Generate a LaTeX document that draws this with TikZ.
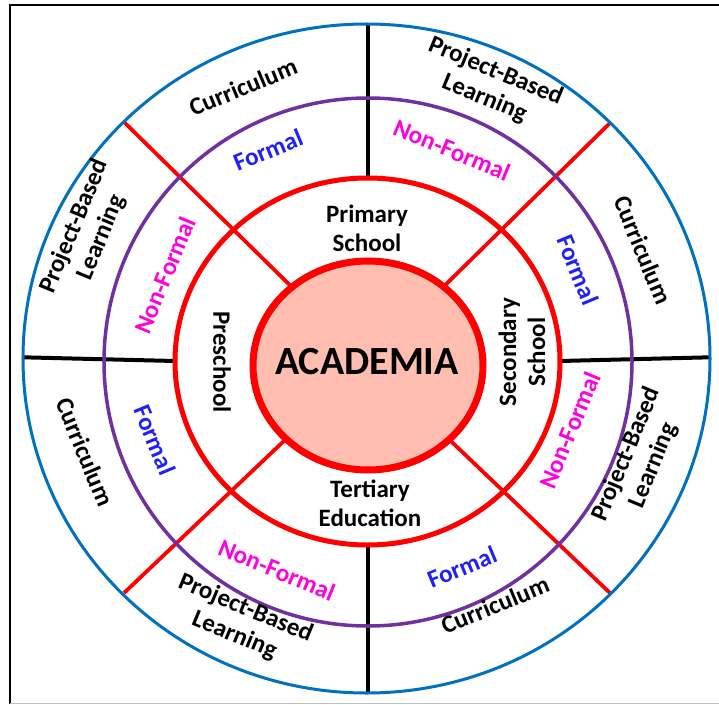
\documentclass[tikz,border=0pt]{standalone}
\usepackage{fontspec}
\setmainfont{Carlito}
\definecolor{ringblue}{RGB}{0,112,192}
\definecolor{ringpurple}{RGB}{112,48,160}
\definecolor{ringred}{RGB}{255,0,0}
\definecolor{corefill}{RGB}{255,190,175}
\definecolor{formalblue}{RGB}{30,30,255}
\definecolor{nonformalmag}{RGB}{255,0,220}
\begin{document}
\begin{tikzpicture}[x=1pt,y=1pt,
  lbl/.style={font=\fontsize{25}{29}\selectfont\bfseries, align=center, inner sep=0pt},
  outerlbl/.style={lbl, text=black},
  formallbl/.style={lbl, text=formalblue},
  nonformallbl/.style={lbl, text=nonformalmag},
  innerlbl/.style={lbl, text=black},
  blackdiv/.style={draw=black, line width=4pt},
  reddiv/.style={draw=ringred, line width=3.8pt}]
\useasboundingbox (-367.5,-344.5) rectangle (351.5,359.5);
% frame
\draw[black, line width=2pt] (-357.5,-344.5) -- (-357.5,354.5) -- (352,354.5);
\draw[gray!50, line width=1pt] (-357.5,-343.5) -- (352,-343.5);
% red diagonal dividers
\coordinate (ctr) at (0,-2);
\coordinate (d1) at (-243.5,237.5);
\coordinate (d2) at (242.5,236.5);
\coordinate (d3) at (-243.5,-233.5);
\coordinate (d4) at (242.5,-233.5);
\draw[reddiv] (d1) -- (ctr);
\draw[reddiv] (d2) -- (ctr);
\draw[reddiv] (d3) -- (ctr);
\draw[reddiv] (d4) -- (ctr);
% black dividers
\coordinate (t1) at (0.2,335.5); \coordinate (t2) at (0.2,181.5);
\coordinate (b1) at (0.2,-185.5); \coordinate (b2) at (0.2,-333.5);
\coordinate (l1) at (-344.5,2.2); \coordinate (l2) at (-192.5,-1.5);
\coordinate (r1) at (192.5,-1.5); \coordinate (r2) at (342.5,2.2);
\draw[blackdiv] (t1) -- (t2);
\draw[blackdiv] (b1) -- (b2);
\draw[blackdiv] (l1) -- (l2);
\draw[blackdiv] (r1) -- (r2);
% rings
\draw[ringblue, line width=3pt] (-1,1) ellipse [x radius=343.5, y radius=334.5];
\draw[ringpurple, line width=3.5pt] (0.5,-2.5) circle [radius=264];
\draw[ringred, line width=5pt] (0,-2) ellipse [x radius=192.5, y radius=183.5];
% core
\fill[corefill, draw=ringred, line width=7pt] (0.5,-6) ellipse [x radius=115, y radius=104.5];
\node[font=\fontsize{40}{46}\selectfont\bfseries, inner sep=0pt] (academia) at (-0.5,-2.5) {ACADEMIA};
% inner ring labels
\node[innerlbl] (primary) at (-0.5,131.5) {Primary\\School};
\node[innerlbl, rotate=90] (secondary) at (154.5,7.5) {Secondary\\School};
\node[innerlbl] (tertiary) at (2.5,-143.5) {Tertiary\\Education};
\node[innerlbl, rotate=-90] (preschool) at (-145.5,-2.5) {Preschool};
% middle ring labels
\node[formallbl, rotate=22.5] (f1) at (-99.5,209.5) {Formal};
\node[nonformallbl, rotate=-22.5] (n1) at (84.5,209.5) {Non-Formal};
\node[formallbl, rotate=-67.5] (f2) at (210.5,89.5) {Formal};
\node[nonformallbl, rotate=67.5] (n2) at (202.5,-70.5) {Non-Formal};
\node[formallbl, rotate=22.5] (f3) at (94.5,-207.5) {Formal};
\node[nonformallbl, rotate=-22.5] (n3) at (-90.5,-210.5) {Non-Formal};
\node[formallbl, rotate=-67.5] (f4) at (-212.5,-80.5) {Formal};
\node[nonformallbl, rotate=67.5] (n4) at (-202.5,84.5) {Non-Formal};
% outer ring labels
\node[outerlbl, rotate=22.5] (c1) at (-124.5,272.5) {Curriculum};
\node[outerlbl, rotate=-22.5] (p1) at (122.5,274.5) {Project-Based\\Learning};
\node[outerlbl, rotate=-67.5] (c2) at (275.5,109.5) {Curriculum};
\node[outerlbl, rotate=67.5] (p2) at (272.5,-100.5) {Project-Based\\Learning};
\node[outerlbl, rotate=22.5] (c3) at (127.5,-245.5) {Curriculum};
\node[outerlbl, rotate=-22.5] (p3) at (-127.5,-262.5) {Project-Based\\Learning};
\node[outerlbl, rotate=-67.5] (c4) at (-282.5,-92.5) {Curriculum};
\node[outerlbl, rotate=67.5] (p4) at (-279.5,127.5) {Project-Based\\Learning};
\end{tikzpicture}
\end{document}
